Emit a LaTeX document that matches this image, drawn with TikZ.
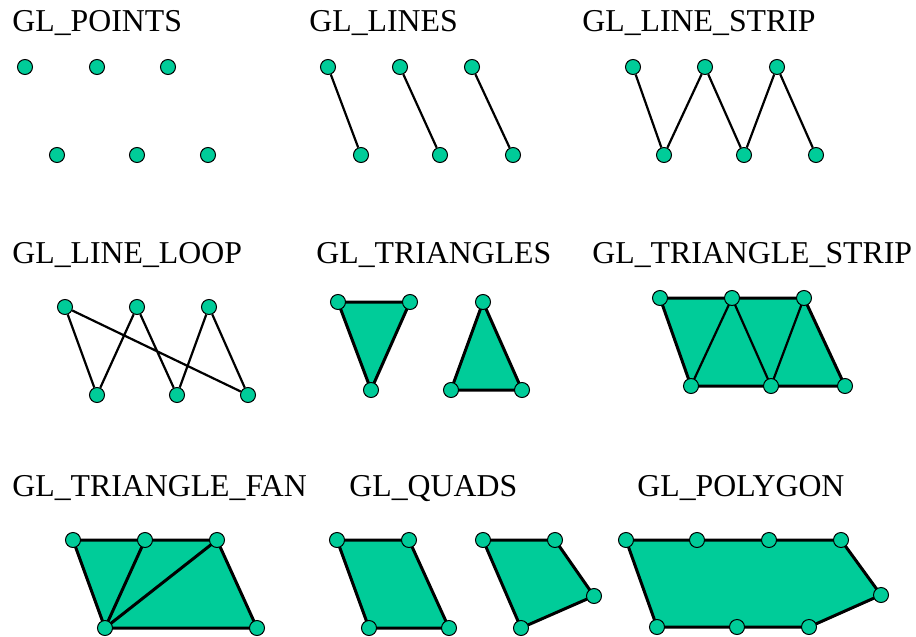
\documentclass[tikz,border=0pt]{standalone}
\usepackage{fontspec}
\setmainfont{Liberation Serif}
\usepackage{xcolor}
\usetikzlibrary{backgrounds}
\definecolor{glgreen}{RGB}{0,204,153}

\begin{document}
\begin{tikzpicture}[
    x=0.5pt, y=-0.5pt,
    vertex/.style={
        circle,
        draw,
        fill=glgreen,
        line width=0.5pt,
        minimum size=7.5pt,
        inner sep=0pt
    },
    title/.style={
        anchor=base west,
        inner sep=0pt,
        font=\fontsize{15.9pt}{18pt}\selectfont
    },
    edge/.style={
        line width=1.1pt,
        black
    },
    face/.style={
        fill=glgreen,
        draw=black,
        line width=1.5pt,
        line join=round
    }
]
    \useasboundingbox (0,0) rectangle (916,637);

    \node[title] (tpoints) at (12,32) {GL\_POINTS};
    \node[title] (tlines) at (309,32) {GL\_LINES};
    \node[title] (tstrip) at (582,32) {GL\_LINE\_STRIP};
    \node[title] (tloop) at (12,263) {GL\_LINE\_LOOP};
    \node[title] (ttris) at (316,263) {GL\_TRIANGLES};
    \node[title] (ttristrip) at (592,263) {GL\_TRIANGLE\_STRIP};
    \node[title] (tfan) at (12,496) {GL\_TRIANGLE\_FAN};
    \node[title] (tquads) at (349,496) {GL\_QUADS};
    \node[title] (tpoly) at (637,496) {GL\_POLYGON};

    \node[vertex] (p1) at (25,67) {};
    \node[vertex] (p2) at (57,155) {};
    \node[vertex] (p3) at (97,67) {};
    \node[vertex] (p4) at (137,155) {};
    \node[vertex] (p5) at (168,67) {};
    \node[vertex] (p6) at (208,155) {};

    \node[vertex] (l1) at (328,67) {};
    \node[vertex] (l2) at (361,155) {};
    \node[vertex] (l3) at (400,67) {};
    \node[vertex] (l4) at (440,155) {};
    \node[vertex] (l5) at (472,67) {};
    \node[vertex] (l6) at (513,155) {};
    \draw[edge] (l1) -- (l2);
    \draw[edge] (l3) -- (l4);
    \draw[edge] (l5) -- (l6);

    \node[vertex] (s1) at (633,67) {};
    \node[vertex] (s2) at (664,155) {};
    \node[vertex] (s3) at (705,67) {};
    \node[vertex] (s4) at (744,155) {};
    \node[vertex] (s5) at (777,67) {};
    \node[vertex] (s6) at (816,155) {};
    \draw[edge] (s1) -- (s2) -- (s3) -- (s4) -- (s5) -- (s6);

    \node[vertex] (o1) at (65,307) {};
    \node[vertex] (o2) at (97,395) {};
    \node[vertex] (o3) at (137,307) {};
    \node[vertex] (o4) at (177,395) {};
    \node[vertex] (o5) at (209,307) {};
    \node[vertex] (o6) at (248,395) {};
    \draw[edge] (o1) -- (o2) -- (o3) -- (o4) -- (o5) -- (o6) -- (o1);

    \node[vertex] (t1) at (338,302) {};
    \node[vertex] (t2) at (410,302) {};
    \node[vertex] (t3) at (371,390) {};
    \node[vertex] (t4) at (483,302) {};
    \node[vertex] (t5) at (451,390) {};
    \node[vertex] (t6) at (522,390) {};

    \node[vertex] (ts1) at (660,298) {};
    \node[vertex] (ts2) at (691,386) {};
    \node[vertex] (ts3) at (732,298) {};
    \node[vertex] (ts4) at (771,386) {};
    \node[vertex] (ts5) at (804,298) {};
    \node[vertex] (ts6) at (845,386) {};

    \node[vertex] (f0) at (105,628) {};
    \node[vertex] (f1) at (73,540) {};
    \node[vertex] (f2) at (145,540) {};
    \node[vertex] (f3) at (217,540) {};
    \node[vertex] (f4) at (257,628) {};

    \node[vertex] (q1) at (337,540) {};
    \node[vertex] (q2) at (409,540) {};
    \node[vertex] (q3) at (449,628) {};
    \node[vertex] (q4) at (369,628) {};
    \node[vertex] (q5) at (483,540) {};
    \node[vertex] (q6) at (555,540) {};
    \node[vertex] (q7) at (594,596) {};
    \node[vertex] (q8) at (521,628) {};

    \node[vertex] (g1) at (626,540) {};
    \node[vertex] (g2) at (697,540) {};
    \node[vertex] (g3) at (769,540) {};
    \node[vertex] (g4) at (841,540) {};
    \node[vertex] (g5) at (881,595) {};
    \node[vertex] (g6) at (809,627) {};
    \node[vertex] (g7) at (737,627) {};
    \node[vertex] (g8) at (657,627) {};

    \begin{pgfonlayer}{background}
        \draw[face] (t1.center) -- (t2.center) -- (t3.center) -- cycle;
        \draw[face] (t4.center) -- (t6.center) -- (t5.center) -- cycle;
        \draw[face] (ts1.center) -- (ts3.center) -- (ts5.center) -- (ts6.center) -- (ts4.center) -- (ts2.center) -- cycle;
        \draw[edge] (ts2.center) -- (ts3.center) -- (ts4.center) -- (ts5.center);
        \draw[face] (f0.center) -- (f1.center) -- (f2.center) -- (f3.center) -- (f4.center) -- cycle;
        \draw[face] (f0.center) -- (f2.center);
        \draw[face] (f0.center) -- (f3.center);
        \draw[face] (q1.center) -- (q2.center) -- (q3.center) -- (q4.center) -- cycle;
        \draw[face] (q5.center) -- (q6.center) -- (q7.center) -- (q8.center) -- cycle;
        \draw[face] (g1.center) -- (g2.center) -- (g3.center) -- (g4.center) -- (g5.center) -- (g6.center) -- (g7.center) -- (g8.center) -- cycle;
    \end{pgfonlayer}
\end{tikzpicture}
\end{document}
